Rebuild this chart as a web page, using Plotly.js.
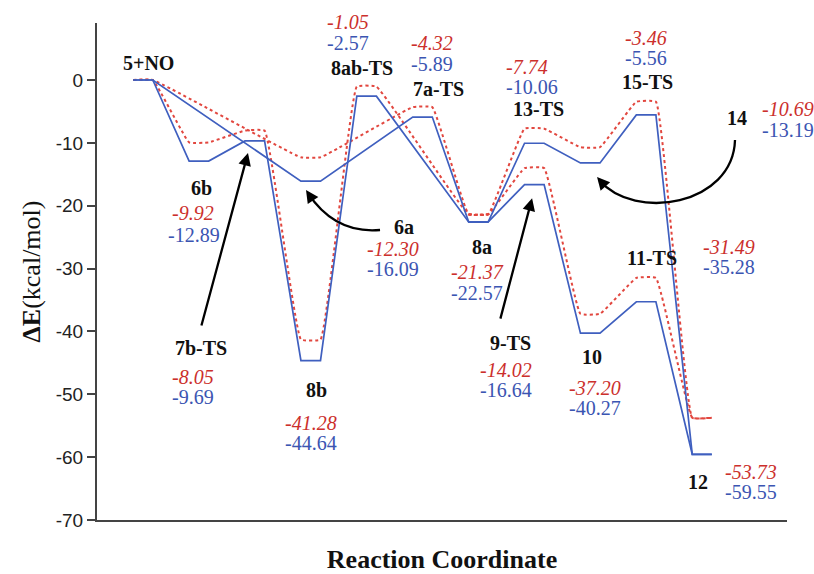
<!DOCTYPE html>
<html>
<head>
<meta charset="utf-8">
<script src="https://cdn.plot.ly/plotly-3.0.1.min.js"></script>
<style>
  html, body { margin: 0; padding: 0; background: #fff; }
  #chart { width: 814px; height: 574px; }
</style>
</head>
<body>
<div id="chart"></div>
<script>
// Stationary points along the reaction coordinate
const states = ['5+NO', '6b', '7b-TS', '8b', '8ab-TS', '6a', '7a-TS', '8a',
                '9-TS', '10', '11-TS', '12', '13-TS', '14', '15-TS'];
// Position of each state on the reaction coordinate
const coord = [0, 1, 2, 3, 4, 3, 5, 6, 7, 8, 9, 10, 7, 8, 9];
// Relative energies, kcal/mol (blue: solid profile, red: dotted profile)
const blueE = [0, -12.89, -9.69, -44.64, -2.57, -16.09, -5.89, -22.57,
               -16.64, -40.27, -35.28, -59.55, -10.06, -13.19, -5.56];
const redE  = [0, -9.92, -8.05, -41.28, -1.05, -12.30, -4.32, -21.37,
               -14.02, -37.20, -31.49, -53.73, -7.74, -10.69, -3.46];
// Connected pathways through the states
const pathways = [
  ['5+NO', '6b', '7b-TS', '8b', '8ab-TS', '8a'],
  ['5+NO', '6a', '7a-TS', '8a'],
  ['8a', '9-TS', '10', '11-TS', '12'],
  ['8a', '13-TS', '14', '15-TS', '12']
];
// Y axis ticks
const yTicks = [0, -10, -20, -30, -40, -50, -60, -70];

const BLUE = '#3f5fbf', RED = '#e2473f';
const BLUE_TXT = '#3b55b2', RED_TXT = '#cc2f2c';
const SERIF = 'Liberation Serif, Times New Roman, serif';
const SANS = 'Liberation Sans, Arial, sans-serif';
const HALF = 0.175; // half width of an energy level bar

const X_RANGE = [-0.823, 11.52], Y_RANGE = [-70, 9.07];

function profile(names, energies) {
  const xs = [], ys = [];
  names.forEach(n => {
    const i = states.indexOf(n);
    xs.push(coord[i] - HALF, coord[i] + HALF);
    ys.push(energies[i], energies[i]);
  });
  return { xs, ys };
}

const traces = [];
pathways.forEach(p => {
  const r = profile(p, redE);
  traces.push({ x: r.xs, y: r.ys, type: 'scatter', mode: 'lines',
    line: { color: RED, width: 2, dash: 'dot', shape: 'spline', smoothing: 0.3 },
    hoverinfo: 'skip' });
});
pathways.forEach(p => {
  const b = profile(p, blueE);
  traces.push({ x: b.xs, y: b.ys, type: 'scatter', mode: 'lines',
    line: { color: BLUE, width: 1.7 }, hoverinfo: 'skip' });
});

// Label placement (axis units): name label and the red/blue value pair
const place = {
  '5+NO':   { n: [0.09, 2.7],    v: null },
  '8ab-TS': { n: [3.92, 1.9],    v: [3.67, 9.2, 3.67, 5.9] },
  '7a-TS':  { n: [5.28, -1.45],  v: [5.17, 5.9, 5.17, 2.55] },
  '13-TS':  { n: [7.07, -4.6],   v: [6.87, 2.07, 6.96, -1.11] },
  '15-TS':  { n: [9.02, -0.3],   v: [9.0, 6.68, 9.0, 3.5] },
  '14':     { n: [10.63, -6.05], v: [11.54, -4.6, 11.54, -7.95] },
  '6b':     { n: [1.04, -17.2],  v: [0.89, -21.16, 0.91, -24.66] },
  '6a':     { n: [4.67, -23.4],  v: [4.47, -26.9, 4.47, -30.0] },
  '8a':     { n: [6.06, -26.57], v: [5.98, -30.55, 5.98, -33.89] },
  '11-TS':  { n: [9.11, -28.3],  v: [10.48, -26.57, 10.48, -29.75] },
  '7b-TS':  { n: [1.04, -42.64], v: [0.89, -47.25, 0.89, -50.43] },
  '8b':     { n: [3.1, -49.3],   v: [3.0, -54.57, 3.0, -57.75] },
  '9-TS':   { n: [6.57, -41.84], v: [6.49, -46.14, 6.49, -49.32] },
  '10':     { n: [8.03, -44.07], v: [8.09, -49.0, 8.09, -52.18] },
  '12':     { n: [9.93, -63.95], v: [10.88, -62.36, 10.88, -65.55] }
};

// Text placed beyond the axis ranges is anchored to the paper instead
function anchor(x, y) {
  const a = { x: x, y: y, xref: 'x', yref: 'y', xanchor: 'center', yanchor: 'middle' };
  if (x > X_RANGE[1] || x < X_RANGE[0]) {
    a.xref = 'paper'; a.x = (x - X_RANGE[0]) / (X_RANGE[1] - X_RANGE[0]);
  }
  if (y > Y_RANGE[1] || y < Y_RANGE[0]) {
    a.yref = 'paper'; a.y = (y - Y_RANGE[0]) / (Y_RANGE[1] - Y_RANGE[0]);
  }
  return a;
}

const annotations = [];
states.forEach((s, i) => {
  const p = place[s];
  annotations.push(Object.assign(anchor(p.n[0], p.n[1]), { showarrow: false,
    text: '<b>' + s + '</b>', font: { family: SERIF, size: 20, color: '#111' } }));
  if (p.v) {
    annotations.push(Object.assign(anchor(p.v[0], p.v[1]), { showarrow: false,
      text: '<i>' + redE[i].toFixed(2) + '</i>', font: { family: SERIF, size: 20, color: RED_TXT } }));
    annotations.push(Object.assign(anchor(p.v[2], p.v[3]), { showarrow: false,
      text: blueE[i].toFixed(2), font: { family: SERIF, size: 20, color: BLUE_TXT } }));
  }
});

// Pointer arrows
const arrowStyle = { showarrow: true, arrowhead: 2, arrowsize: 1.1, arrowwidth: 2.3,
  arrowcolor: '#000', text: '', standoff: 0, startstandoff: 0 };
annotations.push(Object.assign({ x: 1.878, y: -11.6, xref: 'x', yref: 'y',
  ax: 1.038, ay: -39.3, axref: 'x', ayref: 'y' }, arrowStyle));
annotations.push(Object.assign({ x: 6.96, y: -18.8, xref: 'x', yref: 'y',
  ax: 6.386, ay: -38.2, axref: 'x', ayref: 'y' }, arrowStyle));
// heads for the curved pointers
annotations.push(Object.assign({ x: 2.916, y: -17.5, xref: 'x', yref: 'y', ax: 6, ay: 9 }, arrowStyle));
annotations.push(Object.assign({ x: 8.122, y: -15.43, xref: 'x', yref: 'y', ax: 7, ay: 8 }, arrowStyle));

const shapes = [
  { type: 'path', xref: 'x', yref: 'y', line: { color: '#000', width: 2.3 },
    path: 'M 4.24,-23.86 Q 3.435,-24.5 2.95,-18.0' },
  { type: 'path', xref: 'x', yref: 'y', line: { color: '#000', width: 2.3 },
    path: 'M 10.59,-9.55 C 10.555,-19.89 8.80,-22.59 8.16,-15.9' }
];

const layout = {
  width: 814, height: 574,
  margin: { l: 97, r: 27, t: 23, b: 54 },
  paper_bgcolor: '#fff', plot_bgcolor: '#fff',
  showlegend: false, hovermode: false,
  xaxis: {
    range: X_RANGE, showgrid: false, zeroline: false,
    showline: true, linecolor: '#444', linewidth: 2,
    showticklabels: false, ticks: '',
    title: { text: '<b>Reaction Coordinate</b>', standoff: 31,
      font: { family: SERIF, size: 26, color: '#111' } }
  },
  yaxis: {
    range: Y_RANGE, showgrid: false, zeroline: false,
    showline: true, linecolor: '#444', linewidth: 2,
    tickvals: yTicks, ticktext: yTicks.map(String),
    ticks: 'outside', ticklen: 8, tickwidth: 2, tickcolor: '#444',
    tickfont: { family: SANS, size: 19, color: '#222' },
    title: { text: '<b>ΔE</b>(kcal/mol)', standoff: 8,
      font: { family: SERIF, size: 26, color: '#111' } }
  },
  annotations: annotations,
  shapes: shapes
};

Plotly.newPlot('chart', traces, layout, { staticPlot: true, displayModeBar: false });
</script>
</body>
</html>
